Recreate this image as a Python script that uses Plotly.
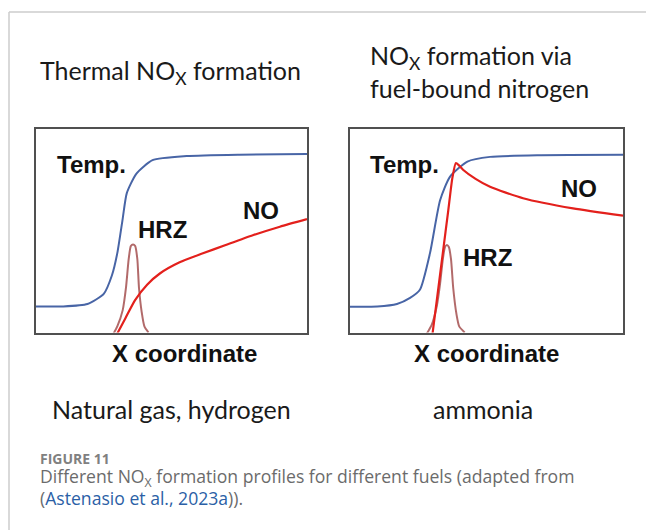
import plotly.graph_objects as go
from plotly.subplots import make_subplots

# Schematic profiles (x and y as fraction of each panel box)
# Thermal NOx panel
thermal_temp_x = [0.0, 0.10, 0.19, 0.25, 0.28, 0.30, 0.32, 0.335, 0.37, 0.43, 0.556, 0.75, 1.0]
thermal_temp_y = [0.128, 0.128, 0.14, 0.19, 0.28, 0.39, 0.56, 0.685, 0.78, 0.847, 0.867, 0.874, 0.877]
thermal_hrz_x = [0.28, 0.30, 0.32, 0.332, 0.342, 0.350, 0.358, 0.366, 0.374, 0.38, 0.39, 0.40, 0.415]
thermal_hrz_y = [-0.02, 0.03, 0.11, 0.22, 0.36, 0.425, 0.433, 0.425, 0.36, 0.22, 0.10, 0.03, 0.0]
thermal_no_x = [0.29, 0.33, 0.365, 0.41, 0.457, 0.53, 0.616, 0.70, 0.80, 0.90, 1.0]
thermal_no_y = [-0.03, 0.07, 0.158, 0.235, 0.29, 0.345, 0.389, 0.43, 0.478, 0.52, 0.557]

# Fuel-bound nitrogen (ammonia) panel
fuel_temp_x = [0.0, 0.10, 0.172, 0.22, 0.256, 0.293, 0.33, 0.366, 0.43, 0.513, 0.70, 1.0]
fuel_temp_y = [0.127, 0.128, 0.14, 0.17, 0.21, 0.39, 0.65, 0.765, 0.84, 0.863, 0.871, 0.873]
fuel_no_x = [0.30, 0.32, 0.34, 0.36, 0.375, 0.388, 0.40, 0.414, 0.46, 0.513, 0.634, 0.817, 1.0]
fuel_no_y = [-0.03, 0.18, 0.39, 0.60, 0.76, 0.833, 0.82, 0.80, 0.755, 0.716, 0.66, 0.61, 0.574]
fuel_hrz_x = [0.275, 0.30, 0.318, 0.33, 0.340, 0.348, 0.355, 0.362, 0.370, 0.378, 0.39, 0.40, 0.42]
fuel_hrz_y = [-0.02, 0.04, 0.13, 0.24, 0.36, 0.42, 0.43, 0.42, 0.36, 0.22, 0.09, 0.03, 0.0]

panel_titles = ["Thermal NO<sub>X</sub> formation",
                "NO<sub>X</sub> formation via<br>fuel-bound nitrogen"]
fuels = ["Natural gas, hydrogen", "ammonia"]

W, H = 646, 530
BLUE = "#4865a6"
RED = "#e3201c"
HRZ = "rgba(165,80,80,0.85)"
SANS = "Lato, 'Liberation Sans', Arial, sans-serif"
BOLD = "'Liberation Sans', Arial, sans-serif"
CAP = "'Open Sans', 'Noto Sans', sans-serif"


def px(x, y):
    return x / W, 1 - y / H


def note(cx, cy, text, font, xanchor="center"):
    x, y = px(cx, cy)
    return dict(xref="paper", yref="paper", x=x, y=y, xanchor=xanchor, yanchor="middle", align="left",
                text=text, showarrow=False, font=font)


fig = make_subplots(rows=1, cols=2)

for col, (tx, ty, hx, hy, nx, ny) in enumerate([
        (thermal_temp_x, thermal_temp_y, thermal_hrz_x, thermal_hrz_y, thermal_no_x, thermal_no_y),
        (fuel_temp_x, fuel_temp_y, fuel_hrz_x, fuel_hrz_y, fuel_no_x, fuel_no_y)], start=1):
    fig.add_trace(go.Scatter(x=tx, y=ty, mode="lines", line=dict(color=BLUE, width=2, shape="spline", smoothing=0.6),
                             showlegend=False, hoverinfo="skip"), row=1, col=col)
    fig.add_trace(go.Scatter(x=hx, y=hy, mode="lines", line=dict(color=HRZ, width=2, shape="spline", smoothing=0.6),
                             showlegend=False, hoverinfo="skip"), row=1, col=col)
    fig.add_trace(go.Scatter(x=nx, y=ny, mode="lines", line=dict(color=RED, width=2.2, shape="spline", smoothing=0.6),
                             showlegend=False, hoverinfo="skip"), row=1, col=col)

axis_common = dict(range=[0, 1], showgrid=False, zeroline=False, showticklabels=False, ticks="",
                   showline=True, mirror=True, linecolor="#505050", linewidth=2, fixedrange=True)
y0, y1 = 1 - 332.5 / H, 1 - 129 / H
fig.update_layout(
    xaxis=dict(domain=[36 / W, 307 / W], **axis_common),
    xaxis2=dict(domain=[350 / W, 623 / W], **axis_common),
    yaxis=dict(domain=[y0, y1], **axis_common),
    yaxis2=dict(domain=[y0, y1], **axis_common),
)

ann = []
# in-panel labels
labels = [("x", "y", 0.206, 0.828, "Temp."), ("x", "y", 0.465, 0.507, "HRZ"), ("x", "y", 0.83, 0.60, "NO"),
          ("x2", "y2", 0.198, 0.824, "Temp."), ("x2", "y2", 0.505, 0.37, "HRZ"), ("x2", "y2", 0.84, 0.71, "NO")]
for xr, yr, lx, ly, t in labels:
    ann.append(dict(xref=xr, yref=yr, x=lx, y=ly, text="<b>" + t + "</b>", showarrow=False,
                    font=dict(family=BOLD, size=24, color="#111111")))

title_font = dict(family=SANS, size=25, color="#1a1a1a")
ann.append(note(170, 72, panel_titles[0], title_font))
ann.append(note(368, 72, panel_titles[1], title_font, xanchor="left"))

for cx in (184, 486):
    ann.append(note(cx, 353, "<b>X coordinate</b>", dict(family=BOLD, size=24, color="#111111")))

for cx, t in zip((171, 483), fuels):
    ann.append(note(cx, 409, t, title_font))

# caption
ann.append(note(38, 458, "<b>FIGURE 11</b>", dict(family=CAP, size=14, color="#808080"), xanchor="left"))
ann.append(note(38, 477, "Different NO<sub>X</sub> formation profiles for different fuels (adapted from",
                dict(family=CAP, size=17.6, color="#6b6b6b"), xanchor="left"))
ann.append(note(38, 498, "(<span style='color:#2b5fa6'>Astenasio et al., 2023a</span>)).",
                dict(family=CAP, size=17.6, color="#6b6b6b"), xanchor="left"))

shapes = [
    dict(type="line", xref="paper", yref="paper", x0=9 / W, x1=1, y0=1 - 12 / H, y1=1 - 12 / H,
         line=dict(color="#cccccc", width=1.5)),
    dict(type="line", xref="paper", yref="paper", x0=9 / W, x1=9 / W, y0=0, y1=1 - 12 / H,
         line=dict(color="#cccccc", width=1.5)),
]

fig.update_layout(width=W, height=H, margin=dict(l=0, r=0, t=0, b=0), paper_bgcolor="white",
                  plot_bgcolor="white", annotations=ann, shapes=shapes)

fig.write_html("out.html", config={"displayModeBar": False},
               post_script="document.body.style.margin='0';")
